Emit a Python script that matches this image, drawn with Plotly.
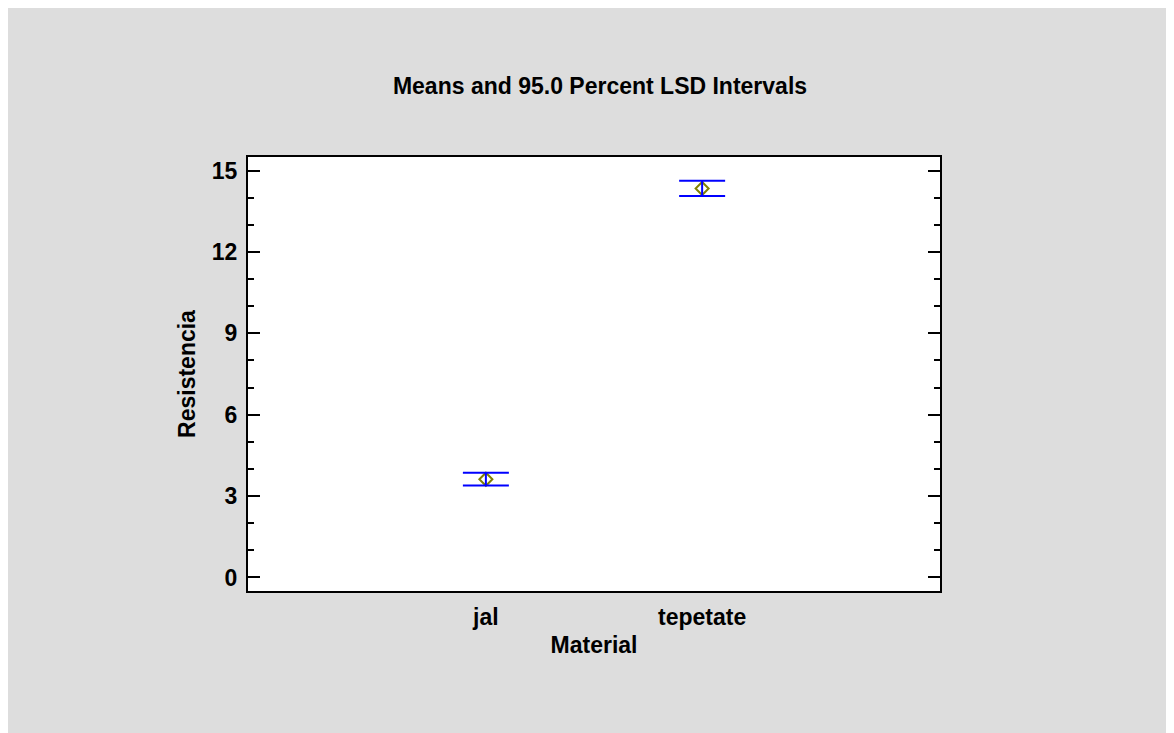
import plotly.graph_objects as go

# ---- data ----
materials = ["jal", "tepetate"]
means = [3.62, 14.34]
lsd_half = [0.235, 0.28]
y_ticks = [0, 3, 6, 9, 12, 15]

title_text = "Means and 95.0 Percent LSD Intervals"
x_title = "Material"
y_title = "Resistencia"

# page body has an 8px margin, so the figure starts at (8, 8)
OFF = 8
W, H = 1174 - OFF, 733 - OFF
ML, MR, MT, MB = 248 - OFF, 234, 157 - OFF, 142

FONT = "Arial, Liberation Sans, Helvetica, sans-serif"
FS = 23

fig = go.Figure()

# mean markers
fig.add_trace(go.Scatter(
    x=materials, y=means, mode="markers",
    marker=dict(symbol="diamond-open", size=10, color="#808000",
                line=dict(width=2, color="#808000")),
    showlegend=False, hoverinfo="skip",
))
# LSD interval bars
fig.add_trace(go.Scatter(
    x=materials, y=means, mode="markers",
    marker=dict(size=1, color="rgba(0,0,0,0)"),
    error_y=dict(type="data", array=lsd_half, symmetric=True,
                 color="#0000FF", thickness=2, width=23),
    showlegend=False, hoverinfo="skip",
))

fig.update_layout(
    width=W, height=H,
    margin=dict(l=ML, r=MR, t=MT, b=MB, autoexpand=False),
    paper_bgcolor="#DDDDDD",
    plot_bgcolor="white",
    font=dict(family=FONT, color="black", size=FS, weight="bold"),
    title=dict(text=title_text, xref="container", yref="container",
               x=(600 - OFF) / W, y=1 - (86 - OFF) / H, xanchor="center", yanchor="middle",
               font=dict(family=FONT, size=FS, color="black", weight="bold")),
    xaxis=dict(
        type="category", range=[-1.1, 2.1],
        showline=True, linecolor="black", linewidth=2, mirror=True,
        ticks="", showgrid=False, zeroline=False,
        tickfont=dict(family=FONT, size=FS, color="black", weight="bold"),
        ticklabelstandoff=4,
        title=dict(text=x_title, standoff=8,
                   font=dict(family=FONT, size=FS, color="black", weight="bold")),
    ),
    yaxis=dict(
        range=[-0.5, 15.5], tickvals=y_ticks,
        showline=True, linecolor="black", linewidth=2, mirror="ticks",
        ticks="inside", ticklen=12, tickwidth=2, tickcolor="black",
        minor=dict(ticks="inside", ticklen=6, tickwidth=2, tickcolor="black", dtick=1),
        showgrid=False, zeroline=False,
        tickfont=dict(family=FONT, size=FS, color="black", weight="bold"),
        ticklabelstandoff=4,
        title=dict(text=y_title, standoff=10,
                   font=dict(family=FONT, size=FS, color="black", weight="bold")),
    ),
)

fig.write_html("out.html")
